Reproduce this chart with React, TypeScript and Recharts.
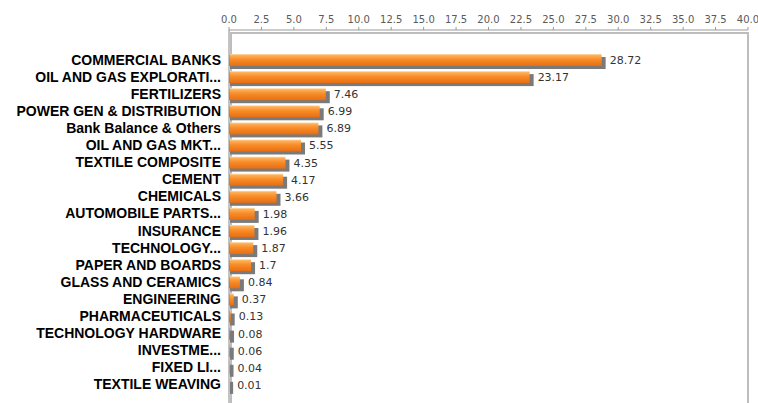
import { Bar, BarChart, LabelList, ReferenceArea, XAxis, YAxis } from "recharts";

const SECTORS = [
  "COMMERCIAL BANKS",
  "OIL AND GAS EXPLORATI...",
  "FERTILIZERS",
  "POWER GEN & DISTRIBUTION",
  "Bank Balance & Others",
  "OIL AND GAS MKT...",
  "TEXTILE COMPOSITE",
  "CEMENT",
  "CHEMICALS",
  "AUTOMOBILE PARTS...",
  "INSURANCE",
  "TECHNOLOGY...",
  "PAPER AND BOARDS",
  "GLASS AND CERAMICS",
  "ENGINEERING",
  "PHARMACEUTICALS",
  "TECHNOLOGY HARDWARE",
  "INVESTME...",
  "FIXED LI...",
  "TEXTILE WEAVING",
];

const WEIGHTS = [
  28.72, 23.17, 7.46, 6.99, 6.89, 5.55, 4.35, 4.17, 3.66, 1.98, 1.96, 1.87,
  1.7, 0.84, 0.37, 0.13, 0.08, 0.06, 0.04, 0.01,
];

const X_TICKS = [
  0, 2.5, 5, 7.5, 10, 12.5, 15, 17.5, 20, 22.5, 25, 27.5, 30, 32.5, 35, 37.5,
  40,
];

const data = SECTORS.map((sector, i) => ({ sector, weight: WEIGHTS[i] }));

// category axis padding, also used to stretch the frame back to the plot edges
const PAD = 21;

if (typeof document !== "undefined") {
  document.body.style.margin = "0";
}

// orange bar with a grey drop shadow
const ShadowBar = (props: any) => {
  const { x, y, width, height } = props;
  if (width == null || height == null) return null;
  return (
    <g>
      <rect x={x + 1} y={y + 3} width={width + 3} height={height} fill="#7a7a7a" />
      <rect x={x} y={y} width={width} height={height} fill="url(#barFill)" />
    </g>
  );
};

// plot frame sits a few pixels inside the axis lines
const Frame = (props: any) => {
  const { x, y, width, height } = props;
  return (
    <rect
      x={x + 2}
      y={y - PAD + 3}
      width={width - 2}
      height={height + 2 * PAD}
      fill="none"
      stroke="#bdbdbd"
      strokeWidth={2}
    />
  );
};

export default function App() {
  return (
    <div style={{ width: 758, height: 403, overflow: "hidden", background: "#fff" }}>
      <BarChart
        width={758}
        height={420}
        data={data}
        layout="vertical"
        margin={{ top: 0, right: 10, bottom: 6, left: 0 }}
        barCategoryGap={0}
      >
        <defs>
          <linearGradient id="barFill" x1="0" y1="0" x2="0" y2="1">
            <stop offset="0%" stopColor="#ffe2b8" />
            <stop offset="12%" stopColor="#fdb05a" />
            <stop offset="45%" stopColor="#f88d28" />
            <stop offset="100%" stopColor="#e86d12" />
          </linearGradient>
        </defs>
        <ReferenceArea x1={0} x2={40} shape={<Frame />} />
        <XAxis
          type="number"
          orientation="top"
          domain={[0, 40]}
          ticks={X_TICKS}
          interval={0}
          height={30}
          tickFormatter={(v: number) => v.toFixed(1)}
          tick={{ fontSize: 10, fill: "#5a5a5a", fontFamily: "DejaVu Sans" }}
          tickSize={3}
          tickMargin={4}
          axisLine={{ stroke: "#999" }}
          tickLine={{ stroke: "#999" }}
        />
        <YAxis
          type="category"
          dataKey="sector"
          width={229}
          interval={0}
          padding={{ top: PAD, bottom: PAD }}
          tick={{
            fontSize: 14,
            fill: "#000",
            fontWeight: "bold",
            fontFamily: "Liberation Sans",
          }}
          tickSize={0}
          tickMargin={8}
          axisLine={{ stroke: "#888" }}
          tickLine={false}
        />
        <Bar
          dataKey="weight"
          barSize={12}
          shape={<ShadowBar />}
          isAnimationActive={false}
        >
          <LabelList
            dataKey="weight"
            position="right"
            offset={8}
            style={{ fontSize: 11, fill: "#333", fontFamily: "DejaVu Sans" }}
          />
        </Bar>
      </BarChart>
    </div>
  );
}
